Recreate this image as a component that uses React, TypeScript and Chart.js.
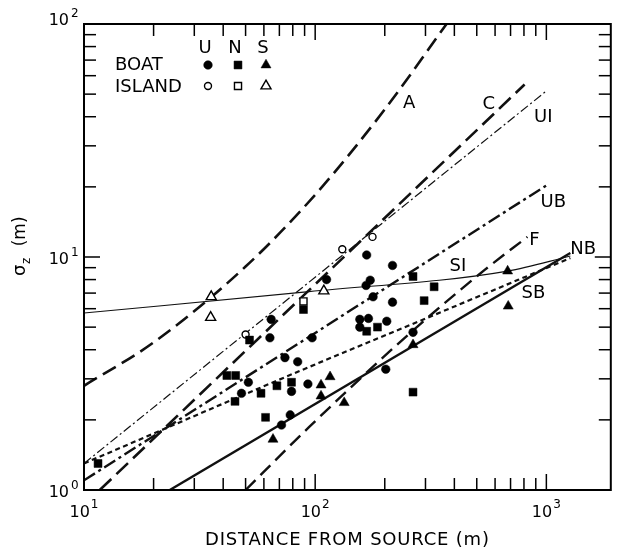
import React, { useEffect, useRef } from 'react';
import { Chart, registerables } from 'chart.js';

Chart.register(...registerables);

type Pt = [number, number];

// ---- measured points: [distance (m), sigma_z (m)] ----
const boatU: Pt[] = [
  [112, 8.0], [64.5, 5.4], [63.7, 4.5], [97, 4.5], [74, 3.7], [84, 3.55],
  [51.4, 2.9], [79, 2.65], [93, 2.85], [48, 2.6], [71.5, 1.9], [78, 2.1],
  [166, 7.55], [173, 7.95], [167, 10.2], [216, 9.2], [178, 6.75], [216, 6.4],
  [156, 5.4], [170, 5.45], [156, 5.0], [204, 5.3], [265, 4.75], [202, 3.3],
];
const boatN: Pt[] = [
  [11.5, 1.3], [52, 4.4], [89, 5.95], [41.5, 3.1], [45.3, 3.1], [68.3, 2.8],
  [79, 2.9], [58.3, 2.6], [45, 2.4], [61, 2.05], [265, 8.25], [327, 7.45],
  [296, 6.5], [167, 4.8], [186, 5.0], [265, 2.63],
];
const boatS: Pt[] = [
  [65.7, 1.65], [116, 3.06], [106, 2.82], [106, 2.53], [133.5, 2.37],
  [265, 4.2], [684, 6.15], [680, 8.7],
];
const islandU: Pt[] = [[50, 4.65], [131, 10.8], [177, 12.2]];
const islandN: Pt[] = [[89, 6.45]];
const islandS: Pt[] = [[35.5, 6.75], [35.3, 5.5], [109, 7.15]];

// ---- curves ----
const curveA: Pt[] = [[10, 2.8], [20, 4.3], [50, 9.1], [100, 18.5], [200, 43], [370, 100]];
const curveC: Pt[] = [[11.7, 1.0], [805, 55]];
const curveUI: Pt[] = [[10, 1.3], [1010, 52]];
const curveUB: Pt[] = [[10, 1.1], [1010, 20.4]];
const curveF: Pt[] = [[50, 1.0], [94, 1.86], [252, 4.63], [541, 8.8], [828, 12.2]];
const curveSB: Pt[] = [[23.5, 1.0], [1270, 10.4]];
const curveNB: Pt[] = [[10, 1.3], [94, 3.37], [350, 5.8], [1270, 9.9]];
const curveSI: Pt[] = [[10, 5.75], [94, 7.1], [680, 8.7], [1270, 10.1]];

const curveNames = ['A', 'C', 'UI', 'UB', 'F', 'NB', 'SI', 'SB'];
const curveLabelAt: Pt[] = [
  [255, 45.8], [563, 45.4], [970, 39.9], [1072, 17.2], [887, 11.8], [1442, 10.8], [414, 9.15], [879, 7.0],
];

// ---- axes ----
const xMin = 10, xMax = 1900, yMin = 1, yMax = 100;
const xMajor = [10, 100, 1000];
const yMajor = [1, 10, 100];
const minorSteps = [2, 3, 4, 5, 6, 7, 8, 9];
const xExpLabels = ['1', '2', '3'];
const yExpLabels = ['0', '1', '2'];
const xTitle = 'DISTANCE FROM SOURCE (m)';
const legendCols = ['U', 'N', 'S'];
const legendRows = ['BOAT', 'ISLAND'];

const FONT = '"DejaVu Sans", "Liberation Sans", sans-serif';

function marker(ctx: CanvasRenderingContext2D, style: string, x: number, y: number, r: number, filled: boolean) {
  ctx.beginPath();
  if (style === 'circle') ctx.arc(x, y, r, 0, Math.PI * 2);
  else if (style === 'rect') {
    const s = r * Math.SQRT1_2;
    ctx.rect(x - s, y - s, 2 * s, 2 * s);
  } else {
    ctx.moveTo(x, y - r);
    ctx.lineTo(x + r * 0.866, y + r / 2);
    ctx.lineTo(x - r * 0.866, y + r / 2);
    ctx.closePath();
  }
  ctx.fillStyle = filled ? '#000' : '#fff';
  ctx.fill();
  ctx.lineWidth = filled ? 0.5 : 1.4;
  ctx.strokeStyle = '#000';
  ctx.stroke();
}

const decorPlugin = {
  id: 'decor',
  afterDatasetsDraw(chart: any) {
    const { ctx, chartArea: a } = chart;
    const xs = chart.scales.x, ys = chart.scales.y;
    ctx.save();
    ctx.strokeStyle = '#000';
    ctx.fillStyle = '#000';
    const line = (x1: number, y1: number, x2: number, y2: number) => {
      ctx.beginPath(); ctx.moveTo(x1, y1); ctx.lineTo(x2, y2); ctx.stroke();
    };
    // ticks
    ctx.lineWidth = 1.5;
    xMajor.forEach((base) => {
      [base, ...minorSteps.map((k) => base * k)].forEach((v, i) => {
        if (v < xMin || v > xMax) return;
        const px = xs.getPixelForValue(v);
        const len = i === 0 ? 16 : 12;
        line(px, a.bottom, px, a.bottom - len);
        line(px, a.top, px, a.top + len);
      });
    });
    yMajor.forEach((base) => {
      [base, ...minorSteps.map((k) => base * k)].forEach((v, i) => {
        if (v < yMin || v > yMax) return;
        const py = ys.getPixelForValue(v);
        const len = i === 0 ? 16 : 12;
        line(a.left, py, a.left + len, py);
        line(a.right, py, a.right - len, py);
      });
    });
    // frame
    ctx.lineWidth = 2;
    ctx.strokeRect(a.left, a.top, a.right - a.left, a.bottom - a.top);

    // x tick labels
    ctx.textBaseline = 'alphabetic';
    xMajor.forEach((v, i) => {
      const px = xs.getPixelForValue(v);
      ctx.font = `16px ${FONT}`;
      const w10 = ctx.measureText('10').width;
      ctx.font = `12px ${FONT}`;
      const we = ctx.measureText(xExpLabels[i]).width;
      const start = px - (w10 + 1 + we) / 2;
      ctx.textAlign = 'left';
      ctx.font = `16px ${FONT}`;
      ctx.fillText('10', start, a.bottom + 27);
      ctx.font = `12px ${FONT}`;
      ctx.fillText(xExpLabels[i], start + w10 + 1, a.bottom + 18);
    });
    // y tick labels
    yMajor.forEach((v, i) => {
      const py = ys.getPixelForValue(v);
      const base = v === yMax ? py + 1 : py + 7;
      ctx.textAlign = 'right';
      ctx.font = `16px ${FONT}`;
      ctx.fillText('10', a.left - 15, base);
      ctx.textAlign = 'left';
      ctx.font = `12px ${FONT}`;
      ctx.fillText(yExpLabels[i], a.left - 13, base - 8);
    });

    // x title
    ctx.font = `18px ${FONT}`;
    ctx.textAlign = 'center';
    (ctx as any).letterSpacing = '0.8px';
    ctx.fillText(xTitle, (a.left + a.right) / 2, a.bottom + 55);
    (ctx as any).letterSpacing = '0px';

    // y title (rotated)
    ctx.save();
    ctx.translate(25, 276);
    ctx.rotate(-Math.PI / 2);
    ctx.textAlign = 'left';
    ctx.font = `18px ${FONT}`;
    ctx.fillText('σ', 0, 0);
    const ws = ctx.measureText('σ').width;
    ctx.font = `12px ${FONT}`;
    ctx.fillText('z', ws + 0.5, 5);
    const wz = ctx.measureText('z').width;
    ctx.font = `17px ${FONT}`;
    ctx.fillText('(m)', ws + wz + 12, 0);
    ctx.restore();

    // curve labels
    ctx.font = `18px ${FONT}`;
    ctx.textAlign = 'center';
    ctx.textBaseline = 'middle';
    curveNames.forEach((name, i) => {
      const [x, y] = curveLabelAt[i];
      ctx.fillText(name, xs.getPixelForValue(x), ys.getPixelForValue(y));
    });

    // legend
    ctx.font = `18px ${FONT}`;
    ctx.textBaseline = 'alphabetic';
    const colX = [a.left + 121, a.left + 151, a.left + 179];
    legendCols.forEach((c, i) => {
      ctx.textAlign = 'center';
      ctx.fillText(c, colX[i], a.top + 29);
    });
    ctx.textAlign = 'left';
    ctx.fillText(legendRows[0], a.left + 31, a.top + 46);
    ctx.fillText(legendRows[1], a.left + 31, a.top + 68);
    const styles = ['circle', 'rect', 'triangle'];
    const rFilled = [4.3, 5.6, 5.8];
    const rOpen = [3.5, 5.0, 5.8];
    styles.forEach((s, i) => {
      marker(ctx, s, colX[i] + 3, a.top + 41, rFilled[i], true);
      marker(ctx, s, colX[i] + 3, a.top + 62, rOpen[i], false);
    });
    ctx.restore();
  },
};

const toPts = (arr: Pt[]) => arr.map(([x, y]) => ({ x, y }));

function pointSet(data: Pt[], style: string, filled: boolean, r: number) {
  return {
    data: toPts(data),
    showLine: false,
    pointStyle: style,
    pointRadius: r,
    pointHoverRadius: r,
    pointBackgroundColor: filled ? '#000' : '#fff',
    pointBorderColor: '#000',
    pointBorderWidth: filled ? 0.5 : 1.4,
    order: 0,
  };
}

function curveSet(data: Pt[], dash: number[], width: number, smooth: boolean) {
  return {
    data: toPts(data),
    showLine: true,
    borderColor: '#111',
    borderWidth: width,
    borderDash: dash,
    pointRadius: 0,
    pointHoverRadius: 0,
    fill: false,
    cubicInterpolationMode: smooth ? 'monotone' : 'default',
    tension: 0,
    order: 1,
  };
}

export default function App() {
  const ref = useRef<HTMLCanvasElement>(null);
  useEffect(() => {
    document.body.style.margin = '0';
    const canvas = ref.current!;
    const chart = new Chart(canvas, {
      type: 'scatter',
      data: {
        datasets: [
          curveSet(curveA, [15, 7], 2.6, true),
          curveSet(curveC, [16, 7], 2.6, false),
          curveSet(curveUI, [9, 3, 2, 3], 1.2, false),
          curveSet(curveUB, [13, 4, 3, 4], 2.4, false),
          curveSet(curveF, [14, 7], 2.4, true),
          curveSet(curveSB, [], 2.4, false),
          curveSet(curveNB, [5, 3.5], 2.2, true),
          curveSet(curveSI, [], 1.1, true),
          pointSet(boatU, 'circle', true, 4.3),
          pointSet(boatN, 'rect', true, 5.6),
          pointSet(boatS, 'triangle', true, 5.8),
          pointSet(islandU, 'circle', false, 3.5),
          pointSet(islandN, 'rect', false, 5.0),
          pointSet(islandS, 'triangle', false, 5.8),
        ] as any,
      },
      options: {
        responsive: false,
        animation: false,
        events: [],
        layout: { padding: { left: 84, right: 4, top: 24, bottom: 59 } },
        plugins: { legend: { display: false }, tooltip: { enabled: false }, title: { display: false } },
        scales: {
          x: { type: 'logarithmic', min: xMin, max: xMax, display: false },
          y: { type: 'logarithmic', min: yMin, max: yMax, display: false },
        },
      } as any,
      plugins: [decorPlugin],
    });
    return () => chart.destroy();
  }, []);
  return (
    <div style={{ position: 'fixed', left: 0, top: 0, width: 618, height: 549, background: '#fff' }}>
      <canvas ref={ref} width={618} height={549} style={{ width: 618, height: 549, display: 'block' }} />
    </div>
  );
}
